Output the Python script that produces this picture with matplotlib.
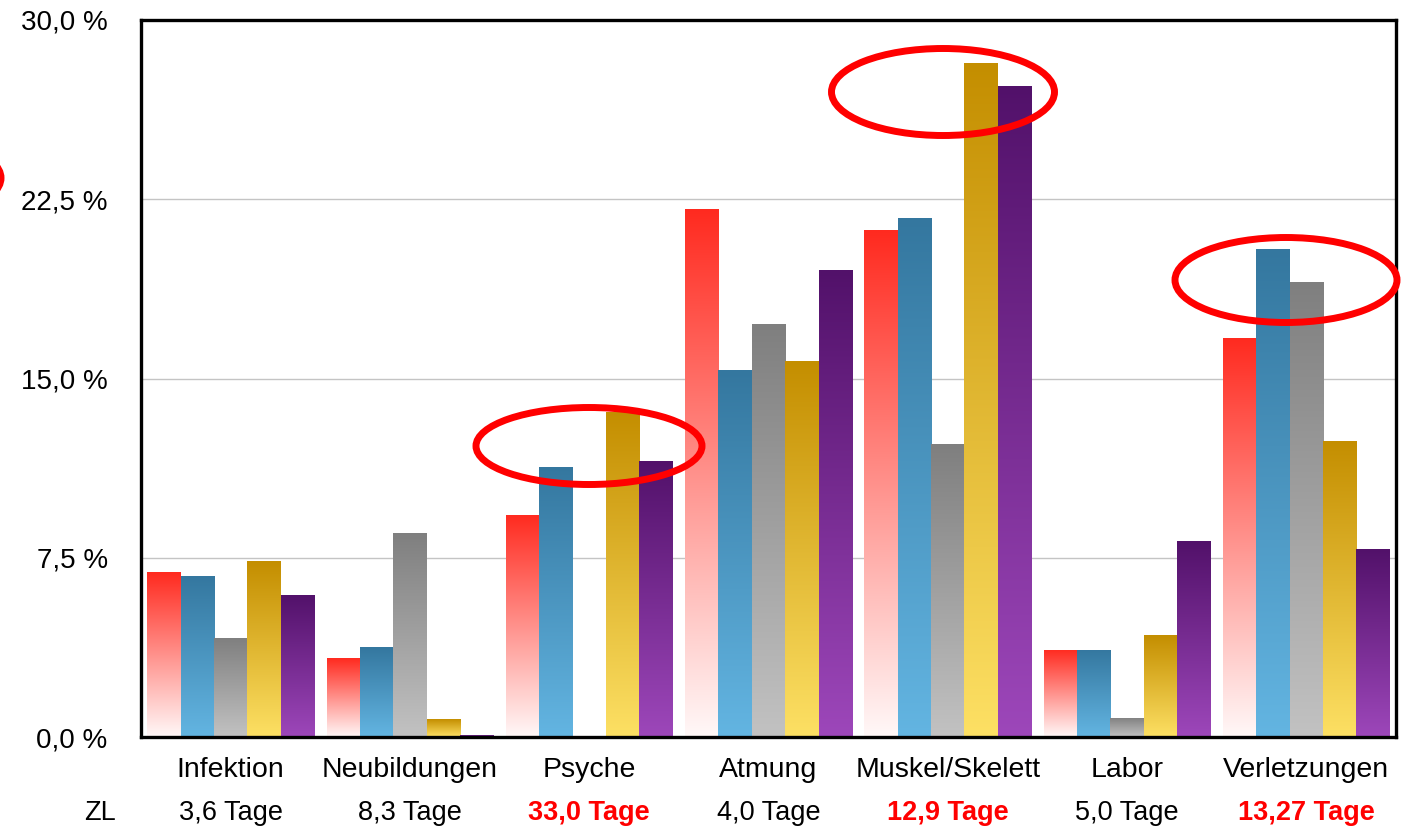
import numpy as np
import matplotlib.pyplot as plt
from matplotlib.patches import Ellipse
from matplotlib.colors import LinearSegmentedColormap

plt.rcParams['font.family'] = ['Liberation Sans', 'DejaVu Sans']

kategorien = ["Infektion", "Neubildungen", "Psyche", "Atmung", "Muskel/Skelett", "Labor", "Verletzungen"]
zl = ["3,6 Tage", "8,3 Tage", "33,0 Tage", "4,0 Tage", "12,9 Tage", "5,0 Tage", "13,27 Tage"]
zl_rot = [False, False, True, False, True, False, True]

# fuenf Reihen, Reihenfolge wie im Bild (rot, blau, grau, gold, lila)
rot = [6.9, 3.3, 9.3, 22.1, 21.2, 3.65, 16.7]
blau = [6.75, 3.75, 11.3, 15.35, 21.7, 3.65, 20.4]
grau = [4.15, 8.55, 0.0, 17.3, 12.25, 0.8, 19.05]
gold = [7.35, 0.75, 13.6, 15.75, 28.2, 4.25, 12.4]
lila = [5.95, 0.08, 11.55, 19.55, 27.25, 8.2, 7.85]

reihen = [rot, blau, grau, gold, lila]
# (unten, oben)
farben = [("#fff8f8", "#ff2a1f"),
          ("#63b5e2", "#34779f"),
          ("#c2c2c2", "#7f7f7f"),
          ("#fde064", "#c48e00"),
          ("#9d47ba", "#52116a")]

fig = plt.figure(figsize=(14.14, 8.26), dpi=100)
ax = fig.add_axes([0.0997, 0.1077, 0.8876, 0.8681])

x = np.arange(len(kategorien))
breite = 0.186
grad = np.linspace(0, 1, 256).reshape(-1, 1)

for i, (werte, (c_unten, c_oben)) in enumerate(zip(reihen, farben)):
    cmap = LinearSegmentedColormap.from_list("g%d" % i, [c_unten, c_oben])
    bars = ax.bar(x + (i - 2) * breite, werte, breite, color=c_oben, zorder=2)
    for b in bars:
        h = b.get_height()
        if h <= 0:
            continue
        x0 = b.get_x()
        im = ax.imshow(grad, extent=[x0, x0 + b.get_width(), 0, h], origin='lower',
                       cmap=cmap, aspect='auto', zorder=2.5, interpolation='bilinear')
        im.set_clip_path(b)
        b.set_facecolor('none')

ax.set_xlim(-0.5, 6.5)
ax.set_ylim(0, 30)
ax.set_yticks([0, 7.5, 15, 22.5, 30])
ax.set_yticklabels(["0,0 %", "7,5 %", "15,0 %", "22,5 %", "30,0 %"], fontsize=20)
ax.tick_params(axis='y', length=0, pad=24)
ax.set_xticks([])
ax.grid(axis='y', color='#c4c4c4', linewidth=1, zorder=0)
ax.set_axisbelow(True)
for s in ax.spines.values():
    s.set_linewidth(2.4)
    s.set_color('black')
    s.set_zorder(5)

trans = ax.get_xaxis_transform()
for i, k in enumerate(kategorien):
    ax.text(x[i], -0.046, k, transform=trans, ha='center', va='center', fontsize=20.5)
    if zl_rot[i]:
        ax.text(x[i], -0.106, zl[i], transform=trans, ha='center', va='center',
                fontsize=19.5, color='#ff0000', fontweight='bold')
    else:
        ax.text(x[i], -0.106, zl[i], transform=trans, ha='center', va='center', fontsize=19.5)
ax.text(-0.729, -0.106, "ZL", transform=trans, ha='center', va='center', fontsize=19.5)

# rote Markierungen (in Pixel der Abbildung)
W, H = 1414, 826
for cx, cy, ew, eh in [(589, 446, 226, 77), (943, 92, 223, 87), (1286, 280, 222, 85), (-113, 178, 228, 86)]:
    e = Ellipse((cx / W, 1 - cy / H), ew / W, eh / H, transform=fig.transFigure,
                fill=False, edgecolor='#ff0000', linewidth=5, zorder=10)
    fig.patches.append(e)

plt.savefig("out.png", dpi=100)
